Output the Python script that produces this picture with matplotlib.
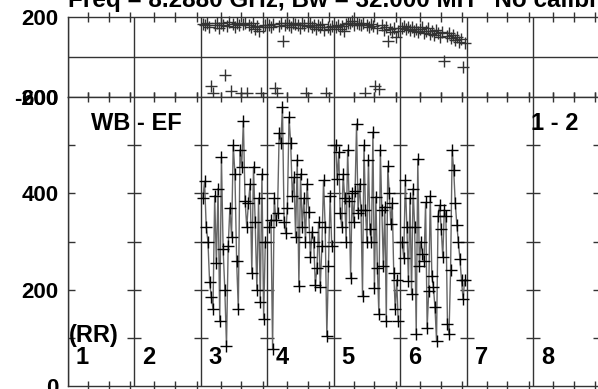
import numpy as np
import matplotlib
matplotlib.use("Agg")
import matplotlib.pyplot as plt

# baseline panels (1..8), data only on 3..6
panel_labels = ["1", "2", "3", "4", "5", "6", "7", "8"]

# amplitude per panel, in time order
amp3 = [390, 425, 330, 300, 215, 185, 160, 395, 255, 410, 135, 475, 285, 200, 83, 290,
        370, 310, 500, 440, 260, 160, 490, 455, 550, 385, 330, 380, 420, 235, 455, 340,
        200, 390, 175, 440, 140, 300]
amp4 = [330, 345, 77, 390, 345, 360, 525, 505, 579, 340, 317, 370, 558, 505, 395, 433,
        310, 470, 208, 440, 330, 390, 300, 420, 362, 267, 320, 300, 210, 245, 340, 205,
        290, 427, 330, 104, 250, 395, 290]
amp5 = [500, 430, 485, 360, 330, 440, 390, 300, 490, 385, 225, 400, 340, 405, 544, 360,
        420, 365, 187, 500, 365, 300, 470, 325, 300, 527, 204, 393, 245, 150, 490, 365,
        250, 372, 135, 456, 400, 336, 380, 235, 160, 220, 135]
amp6 = [298, 265, 427, 330, 219, 390, 192, 410, 330, 108, 471, 250, 300, 275, 260, 381,
        121, 197, 395, 229, 205, 163, 94, 353, 375, 326, 267, 366, 353, 129, 108, 240,
        490, 448, 380, 335, 298, 263, 220, 180, 220]

# phase per panel (degrees)
ph3 = [165, 158, 172, 150, -143, -178, 160, 168, 145, 170, 162, -92, 155, 175, -168, 163,
       150, 170, 158, -178, 165, 172, -178, 160, 148, 168, 140, 155, 130, -178, 150, 162]
ph4 = [160, 150, 165, -153, -178, 155, 168, 80, 158, 170, 162, 150, 172, 165, 158, 145,
       168, 160, -178, 155, 170, 150, 162, 140, 158, 148, 165, 135, -178, 150, 138, 155]
ph5 = [150, 160, 140, 155, 130, 165, 172, 168, 178, 160, 170, 165, 158, 172, -178, 160,
       150, 165, 155, -143, 145, -158, 160, 135, 150, 80, 140, 125, 145, 99, 130]
ph6 = [145, 155, 140, 150, 135, 148, 130, 142, 125, 138, 150, 120, 132, 145, 115, 128,
       110, 135, 120, 100, 125, -18, 105, 118, 95, 110, 85, 100, 75, 90, -49, 70]

amps = {3: amp3, 4: amp4, 5: amp5, 6: amp6}
phases = {3: ph3, 4: ph4, 5: ph5, 6: ph6}

plt.rcParams['font.family'] = ['Liberation Sans', 'DejaVu Sans']
plt.rcParams['font.weight'] = 'bold'

W, H = 598, 389
fig = plt.figure(figsize=(W / 100, H / 100), dpi=100)
left = 68 / W
width = (599.5 - 68) / W
ax_ph = fig.add_axes([left, 1 - 97 / H, width, 80 / H])
ax_am = fig.add_axes([left, 1 - 386 / H, width, 289 / H])

frame = '#333333'
minor = [k + f for k in range(8) for f in (0.30, 0.61, 0.935)]

for ax in (ax_ph, ax_am):
    ax.set_xlim(0, 8)
    for s in ax.spines.values():
        s.set_color(frame)
        s.set_linewidth(1)
    for k in range(9):
        ax.axvline(k, color=frame, lw=1, zorder=1)
    ax.set_xticks(minor)
    ax.set_xticklabels([])
    ax.tick_params(axis='x', direction='inout', length=7, width=1, color=frame,
                   top=True, bottom=True)
    ax.tick_params(axis='y', length=0, labelsize=16, pad=7)

# phase panel
ax_ph.set_ylim(-200, 200)
ax_ph.axhline(0, color=frame, lw=1)
ax_ph.set_yticks([-200, 200])
ax_ph.set_yticklabels(['-200', '200'], fontweight='bold')
for k, ph in phases.items():
    x = np.linspace(k - 1 + 0.03, k - 1 + 0.97, len(ph))
    ax_ph.plot(x, ph, ls='none', marker='+', ms=9, mew=1, color='#333333',
               clip_on=False, zorder=3)

# amplitude panel
ax_am.set_ylim(0, 600)
ax_am.set_yticks([0, 200, 400, 600])
ax_am.set_yticklabels(['0', '200', '400', '600'], fontweight='bold')
sep_x = np.repeat(np.arange(9), 5)
sep_y = np.tile([100, 200, 300, 400, 500], 9)
ax_am.plot(sep_x, sep_y, ls='none', marker='_', ms=10, mew=1, color=frame, zorder=1)
for k, am in amps.items():
    x = np.linspace(k - 1 + 0.03, k - 1 + 0.97, len(am))
    ax_am.plot(x, am, color='#666666', lw=1, zorder=2)
    ax_am.plot(x, am, ls='none', marker='+', ms=9, mew=1, color='black',
               clip_on=False, zorder=3)

ax_am.text(0.35, 546, 'WB - EF', fontsize=17, fontweight='bold', va='center', ha='left')
ax_am.text(6.97, 546, '1 - 2', fontsize=17, fontweight='bold', va='center', ha='left')
ax_am.text(0.02, 104, '(RR)', fontsize=17, fontweight='bold', va='center', ha='left')
for i, lab in enumerate(panel_labels):
    ax_am.text(i + 0.12, 60, lab, fontsize=17, fontweight='bold', va='center', ha='left')

fig.text(left, 1 - 7 / H, 'Freq = 8.2880 GHz, Bw = 32.000 MH   No calibration',
         fontsize=17.5, fontweight='bold', ha='left', va='baseline')

fig.savefig('out.png', dpi=100)
